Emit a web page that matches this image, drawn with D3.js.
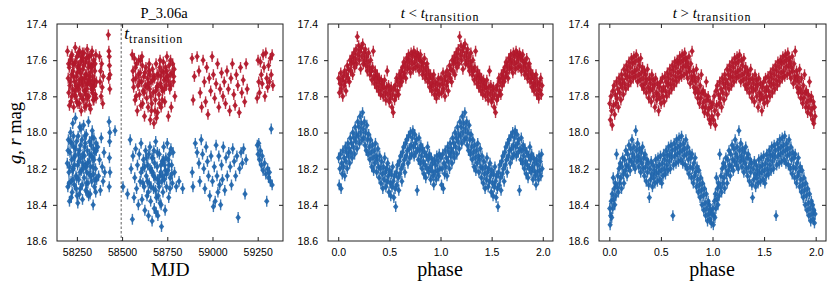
<!DOCTYPE html>
<html>
<head>
<meta charset="utf-8">
<script src="https://cdn.jsdelivr.net/npm/d3@7"></script>
<style>
  body { margin: 0; background: #fff; }
  svg text { fill: #000; }
  .tick text { font-family: 'Liberation Sans', Arial, sans-serif; font-size: 10.5px; }
  .serif { font-family: 'Liberation Serif', 'Times New Roman', serif; }
</style>
</head>
<body>
<div id="chart"></div>
<script>
// ticks
const magTicks = [17.4, 17.6, 17.8, 18.0, 18.2, 18.4, 18.6]
const mjdTicks = [58250, 58500, 58750, 59000, 59250]
const phaseTicks = [0, 0.5, 1, 1.5, 2]
const tTransition = 58495

// light curve vs MJD, r band [mjd, mag]
const rTime = [
  [58198,17.55],[58202,17.70],[58205,17.78],[58208,17.64],[58211,17.74],[58214,17.60],[58217,17.83],[58220,17.68],[58223,17.57],[58226,17.76],
  [58229,17.66],[58232,17.86],[58235,17.62],[58238,17.72],[58241,17.53],[58244,17.80],[58247,17.69],[58250,17.58],[58253,17.75],[58256,17.84],
  [58259,17.63],[58262,17.71],[58265,17.55],[58268,17.79],[58271,17.67],[58274,17.88],[58277,17.60],[58280,17.74],[58283,17.65],[58286,17.82],
  [58289,17.56],[58292,17.70],[58295,17.77],[58298,17.61],[58301,17.85],[58304,17.68],[58307,17.54],[58310,17.73],[58313,17.64],[58316,17.80],
  [58319,17.58],[58322,17.71],[58325,17.87],[58328,17.63],[58331,17.76],[58334,17.55],[58337,17.69],[58340,17.82],[58343,17.60],[58346,17.74],
  [58349,17.66],[58352,17.79],[58355,17.57],[58358,17.72],
  [58215,17.72],[58227,17.62],[58240,17.77],[58252,17.67],[58264,17.84],[58276,17.70],[58288,17.63],[58300,17.73],[58312,17.58],[58324,17.67],
  [58336,17.78],[58348,17.71],[58260,17.76],[58284,17.59],[58308,17.81],[58332,17.64],[58270,17.61],[58294,17.86],[58318,17.69],[58342,17.75],
  [58204,17.62],[58209,17.85],[58218,17.58],[58222,17.80],[58231,17.69],[58236,17.79],[58243,17.61],[58249,17.83],[58255,17.64],[58258,17.56],
  [58266,17.73],[58273,17.58],[58279,17.81],[58282,17.72],[58290,17.77],[58297,17.68],[58303,17.59],[58306,17.76],[58314,17.71],[58320,17.85],
  [58327,17.74],[58330,17.57],[58338,17.63],[58344,17.82],[58351,17.62],[58356,17.81],[58245,17.74],[58263,17.65],[58281,17.56],[58299,17.79],
  [58317,17.62],[58335,17.72],
  [58375,17.58],[58378,17.72],[58381,17.66],[58384,17.80],[58387,17.62],[58390,17.75],[58393,17.84],[58396,17.69],
  [58424,17.46],[58427,17.55],[58430,17.63],[58426,17.70],[58432,17.76],[58429,17.58],[58433,17.68],
  [58556,17.57],[58560,17.66],[58564,17.75],[58568,17.59],[58572,17.82],[58576,17.70],[58580,17.62],[58584,17.88],[58588,17.74],[58592,17.60],
  [58596,17.79],[58600,17.67],[58604,17.85],[58608,17.72],[58612,17.63],[58616,17.77],[58620,17.69],[58624,17.91],[58628,17.74],[58632,17.64],
  [58636,17.81],[58640,17.70],[58644,17.86],[58648,17.66],[58652,17.76],[58656,17.93],[58660,17.72],[58664,17.84],[58668,17.65],[58672,17.78],
  [58676,17.95],[58680,17.70],[58684,17.82],[58688,17.62],[58692,17.75],[58696,17.89],[58700,17.68],[58704,17.79],[58708,17.64],[58712,17.73],
  [58716,17.86],[58720,17.66],[58724,17.77],[58728,17.61],[58732,17.71],[58736,17.83],[58740,17.64],[58744,17.74],[58748,17.58],[58752,17.69],
  [58756,17.91],[58760,17.63],[58764,17.76],[58768,17.60],[58772,17.86],[58776,17.67],[58780,17.62],[58784,17.72],[58788,17.65],[58792,17.80],
  [58574,17.64],[58598,17.72],[58622,17.78],[58646,17.73],[58670,17.71],[58694,17.68],[58718,17.75],[58742,17.70],[58766,17.68],[58610,17.58],
  [58658,17.80],[58706,17.84],[58730,17.67],[58682,17.88],
  [58562,17.71],[58578,17.80],[58590,17.68],[58602,17.60],[58614,17.84],[58626,17.67],[58638,17.75],[58650,17.62],[58662,17.88],[58674,17.69],
  [58686,17.77],[58698,17.74],[58710,17.60],[58722,17.82],[58734,17.76],[58746,17.66],[58758,17.72],[58770,17.74],[58786,17.69],[58654,17.68],
  [58690,17.92],[58714,17.69],
  [58887,17.59],[58893,17.82],[58900,17.69],[58915,17.58],[58925,17.66],[58932,17.78],[58940,17.86],[58948,17.60],[58955,17.72],[58962,17.83],
  [58968,17.64],[58975,17.90],[58982,17.70],[58990,17.77],[58998,17.58],[59005,17.68],[59012,17.81],[59020,17.73],[59028,17.62],[59035,17.86],
  [59042,17.76],[59050,17.67],[59058,17.80],[59065,17.72],[59072,17.84],[59080,17.66],[59088,17.76],[59095,17.88],[59102,17.70],[59110,17.62],
  [59118,17.79],[59125,17.85],[59132,17.68],[59140,17.74],[59148,17.89],[59155,17.64],[59162,17.78],[59170,17.71],[59178,17.83],[59186,17.62],
  [59192,17.76],
  [59247,17.81],[59252,17.60],[59256,17.72],[59260,17.78],[59265,17.61],[59270,17.68],[59275,17.73],[59280,17.57],[59285,17.64],[59290,17.80],
  [59295,17.56],[59300,17.70],[59305,17.75],[59310,17.63],[59315,17.72],[59320,17.59],[59325,17.68],[59330,17.57],[59334,17.74]
]

// light curve vs MJD, g band [mjd, mag]
const gTime = [
  [58197,18.17],[58200,18.30],[58203,18.04],[58206,18.22],[58209,18.38],[58212,18.11],[58215,18.00],[58218,18.27],[58221,18.15],[58224,18.33],
  [58227,17.95],[58230,18.20],[58233,18.08],[58236,18.29],[58239,18.13],[58242,17.92],[58245,18.24],[58248,18.05],[58251,18.35],[58254,18.18],
  [58257,18.02],[58260,18.26],[58263,18.10],[58266,17.97],[58269,18.31],[58272,18.14],[58275,18.21],[58278,18.04],[58281,18.37],[58284,18.12],
  [58287,17.96],[58290,18.25],[58293,18.08],[58296,18.18],[58299,18.32],[58302,18.01],[58305,18.22],[58308,18.10],[58311,18.28],[58314,17.94],
  [58317,18.16],[58320,18.05],[58323,18.34],[58326,18.19],[58329,18.07],[58332,18.27],[58335,17.99],[58338,18.14],[58341,18.23],[58344,18.03],
  [58347,18.30],[58350,18.11],[58353,18.20],[58356,18.06],[58359,18.26],
  [58210,18.19],[58222,18.06],[58234,18.14],[58246,18.31],[58258,18.12],[58270,18.07],[58282,18.17],[58294,18.02],[58306,18.33],[58318,18.23],
  [58330,18.13],[58342,18.09],[58354,18.33],
  [58201,18.10],[58207,18.28],[58213,18.05],[58219,18.36],[58225,18.21],[58231,18.02],[58237,18.18],[58243,18.09],[58249,18.25],[58255,18.39],
  [58261,18.16],[58267,18.22],[58273,17.98],[58279,18.29],[58285,18.20],[58291,18.13],[58297,18.06],[58303,18.28],[58309,18.17],[58315,18.35],
  [58321,18.12],[58327,18.24],[58333,18.03],[58339,18.19],[58345,18.15],[58351,18.26],[58357,18.10],[58228,18.26],[58264,18.34],[58300,18.19],
  [58365,18.08],[58370,18.24],[58375,18.15],[58380,18.32],[58385,18.03],[58390,18.19],[58395,18.27],[58400,18.11],[58404,18.22],[58340,18.40],
  [58428,17.94],[58431,18.05],[58430,18.14],[58433,18.22],[58429,18.30],[58432,18.00],[58461,17.99],
  [58505,18.30],[58530,18.34],[58545,18.04],[58550,18.20],[58557,18.48],[58560,18.13],[58566,18.36],[58570,18.25],[58575,18.09],[58580,18.31],
  [58585,18.18],[58590,18.40],[58595,18.12],[58600,18.27],[58605,18.06],[58610,18.37],[58614,18.20],[58618,18.15],[58622,18.30],[58626,18.43],
  [58630,18.10],[58634,18.24],[58638,18.35],[58642,18.18],[58646,18.46],[58650,18.28],[58654,18.08],[58658,18.38],[58662,18.21],[58666,18.49],
  [58670,18.14],[58674,18.31],[58678,18.42],[58682,18.25],[58686,18.05],[58690,18.36],[58694,18.19],[58698,18.46],[58702,18.28],[58706,18.12],
  [58710,18.39],[58714,18.22],[58718,18.52],[58722,18.16],[58726,18.33],[58730,18.08],[58734,18.26],[58738,18.43],[58742,18.14],[58746,18.30],
  [58750,18.06],[58754,18.21],[58758,18.36],[58762,18.12],[58766,18.25],[58770,18.09],[58774,18.18],[58778,18.28],[58782,18.11],[58790,18.22],
  [58800,18.30],[58815,18.27],[58835,18.31],
  [58640,18.27],[58660,18.30],[58680,18.17],[58700,18.35],[58720,18.27],[58740,18.21],[58760,18.18],[58648,18.12],[58668,18.22],[58688,18.44],
  [58708,18.24],[58728,18.15],[58676,18.10],[58696,18.26],[58716,18.40],
  [58605,18.22],[58615,18.28],[58625,18.19],[58635,18.14],[58645,18.33],[58655,18.20],[58665,18.14],[58675,18.24],[58685,18.32],[58695,18.11],
  [58705,18.30],[58715,18.18],[58725,18.24],[58735,18.18],[58745,18.23],[58755,18.15],[58765,18.31],[58775,18.23],
  [58888,18.22],[58892,18.30],[58905,18.06],[58915,18.11],[58925,18.17],[58930,18.27],[58938,18.04],[58945,18.12],[58952,18.20],[58958,18.31],
  [58965,18.08],[58972,18.16],[58978,18.24],[58985,18.35],[58992,18.13],[59000,18.27],[59005,18.41],[59010,18.19],[59015,18.38],[59020,18.07],
  [59025,18.24],[59030,18.33],[59035,18.13],[59040,18.29],[59045,18.40],[59050,18.18],[59055,18.26],[59060,18.08],[59068,18.32],[59075,18.14],
  [59082,18.24],[59090,18.11],[59098,18.19],[59105,18.29],[59112,18.09],[59120,18.16],[59128,18.24],[59135,18.13],[59142,18.47],[59150,18.20],
  [59158,18.11],[59165,18.17],[59172,18.09],[59180,18.34],[59186,18.15],
  [59248,18.07],[59252,18.12],[59256,18.06],[59260,18.15],[59265,18.10],[59270,18.18],[59275,18.13],[59280,18.21],[59288,18.17],[59295,18.23],
  [59300,18.38],[59305,18.20],[59310,18.25],[59315,18.22],[59320,18.27],[59325,17.98],[59330,18.29]
]

// folded, t < t_transition [phase, mag]
const rBefore = [
  [0.005,17.70],[0.012,17.78],[0.018,17.73],[0.025,17.67],[0.031,17.76],[0.038,17.71],[0.044,17.80],[0.050,17.69],[0.057,17.74],[0.063,17.66],
  [0.070,17.72],[0.076,17.77],[0.083,17.68],[0.089,17.63],[0.096,17.70],[0.102,17.65],[0.109,17.72],[0.115,17.60],[0.122,17.66],[0.128,17.62],
  [0.135,17.58],[0.141,17.68],[0.148,17.61],[0.154,17.56],[0.161,17.64],[0.167,17.59],[0.174,17.54],[0.180,17.62],[0.187,17.47],[0.193,17.57],
  [0.200,17.52],[0.206,17.60],[0.213,17.55],[0.219,17.65],[0.226,17.53],[0.232,17.58],[0.239,17.51],[0.245,17.62],[0.252,17.56],[0.258,17.60],
  [0.265,17.54],[0.271,17.63],[0.278,17.58],[0.284,17.66],[0.291,17.61],[0.297,17.56],[0.304,17.64],[0.310,17.68],[0.317,17.60],[0.323,17.66],
  [0.330,17.71],[0.336,17.64],[0.343,17.55],[0.349,17.69],[0.356,17.73],[0.362,17.66],[0.369,17.70],[0.375,17.75],[0.382,17.68],[0.388,17.72],
  [0.395,17.77],[0.401,17.70],[0.408,17.74],[0.414,17.79],[0.421,17.71],[0.427,17.76],[0.434,17.73],[0.440,17.80],[0.447,17.75],[0.453,17.71],
  [0.460,17.78],[0.466,17.82],[0.473,17.75],[0.479,17.66],[0.486,17.79],[0.492,17.74],[0.499,17.83],[0.505,17.77],[0.512,17.81],[0.518,17.75],
  [0.525,17.86],[0.531,17.79],[0.538,17.89],[0.544,17.76],[0.551,17.82],[0.557,17.74],[0.564,17.80],[0.570,17.70],[0.577,17.77],[0.583,17.72],
  [0.590,17.79],[0.596,17.68],[0.603,17.74],[0.609,17.70],[0.616,17.66],[0.622,17.72],[0.629,17.64],[0.635,17.69],[0.642,17.61],[0.648,17.67],
  [0.655,17.63],[0.661,17.70],[0.668,17.59],[0.674,17.65],[0.681,17.61],[0.687,17.57],[0.694,17.64],[0.700,17.60],[0.707,17.67],[0.713,17.56],
  [0.720,17.62],[0.726,17.58],[0.733,17.65],[0.739,17.55],[0.746,17.61],[0.752,17.57],[0.759,17.64],[0.765,17.59],[0.772,17.56],[0.778,17.63],
  [0.785,17.58],[0.791,17.66],[0.798,17.60],[0.804,17.57],[0.811,17.64],[0.817,17.61],[0.824,17.68],[0.830,17.62],[0.837,17.66],[0.843,17.59],
  [0.850,17.70],[0.856,17.64],[0.863,17.68],[0.869,17.62],[0.876,17.72],[0.882,17.66],[0.889,17.70],[0.895,17.75],[0.902,17.68],[0.908,17.73],
  [0.915,17.77],[0.921,17.70],[0.928,17.74],[0.934,17.68],[0.941,17.79],[0.947,17.72],[0.954,17.76],[0.960,17.81],[0.967,17.73],[0.973,17.77],
  [0.980,17.70],[0.986,17.79],[0.993,17.74]
]

const gBefore = [
  [0.004,18.14],[0.010,18.29],[0.016,18.20],[0.022,18.12],[0.028,18.31],[0.034,18.17],[0.040,18.23],[0.046,18.10],[0.052,18.19],[0.058,18.14],
  [0.064,18.24],[0.070,18.08],[0.076,18.16],[0.082,18.11],[0.088,18.20],[0.094,18.06],[0.100,18.13],[0.106,18.09],[0.112,18.17],[0.118,18.03],
  [0.124,18.11],[0.130,18.06],[0.136,18.14],[0.142,18.00],[0.148,18.08],[0.154,18.03],[0.160,18.12],[0.166,17.97],[0.172,18.05],[0.178,18.01],
  [0.184,18.09],[0.190,17.94],[0.196,18.02],[0.202,17.97],[0.208,18.06],[0.214,17.91],[0.220,18.00],[0.226,17.95],[0.232,18.04],[0.238,17.89],
  [0.244,17.98],[0.250,18.03],[0.256,17.94],[0.262,18.07],[0.268,18.00],[0.274,18.10],[0.280,17.96],[0.286,18.04],[0.292,18.12],[0.298,18.01],
  [0.304,18.08],[0.310,18.15],[0.316,18.04],[0.322,18.11],[0.328,18.19],[0.334,18.07],[0.340,18.14],[0.346,18.21],[0.352,18.10],[0.358,18.17],
  [0.364,18.06],[0.370,18.13],[0.376,18.22],[0.382,18.15],[0.388,18.09],[0.394,18.19],[0.400,18.25],[0.406,18.13],[0.412,18.20],[0.418,18.28],
  [0.424,18.16],[0.430,18.23],[0.436,18.31],[0.442,18.19],[0.448,18.26],[0.454,18.14],[0.460,18.22],[0.466,18.30],[0.472,18.20],[0.478,18.27],
  [0.484,18.17],[0.490,18.24],[0.496,18.33],[0.502,18.21],[0.508,18.28],[0.514,18.35],[0.520,18.23],[0.526,18.30],[0.532,18.19],[0.538,18.27],
  [0.544,18.36],[0.550,18.24],[0.556,18.31],[0.562,18.41],[0.568,18.22],[0.574,18.29],[0.580,18.18],[0.586,18.25],[0.592,18.32],[0.598,18.16],
  [0.604,18.23],[0.610,18.13],[0.616,18.20],[0.622,18.27],[0.628,18.11],[0.634,18.18],[0.640,18.08],[0.646,18.15],[0.652,18.22],[0.658,18.06],
  [0.664,18.13],[0.670,18.04],[0.676,18.10],[0.682,18.17],[0.688,18.02],[0.694,18.09],[0.700,18.14],[0.706,18.00],[0.712,18.07],[0.718,18.12],
  [0.724,18.03],[0.730,17.99],[0.736,18.08],[0.742,18.13],[0.748,18.01],[0.754,18.06],[0.760,18.11],[0.766,18.04],[0.772,18.32],[0.778,18.09],
  [0.784,18.15],[0.790,18.03],[0.796,18.10],[0.802,18.17],[0.808,18.07],[0.814,18.13],[0.820,18.20],[0.826,18.09],[0.832,18.16],[0.838,18.23],
  [0.844,18.11],[0.850,18.18],[0.856,18.25],[0.862,18.13],[0.868,18.20],[0.874,18.08],[0.880,18.15],[0.886,18.22],[0.892,18.12],[0.898,18.19],
  [0.904,18.26],[0.910,18.14],[0.916,18.21],[0.922,18.17],[0.928,18.24],[0.934,18.29],[0.940,18.15],[0.946,18.22],[0.952,18.18],[0.958,18.26],
  [0.964,18.13],[0.970,18.21],[0.976,18.16],[0.982,18.24],[0.988,18.12],[0.994,18.20]
]

// folded, t > t_transition [phase, mag]
const rAfter = [
  [0.004,17.84],[0.010,17.93],[0.016,17.80],[0.022,17.88],[0.028,17.96],[0.034,17.77],[0.040,17.85],[0.046,17.74],[0.052,17.90],[0.058,17.79],
  [0.064,17.84],[0.070,17.72],[0.076,17.81],[0.082,17.76],[0.088,17.86],[0.094,17.70],[0.100,17.78],[0.106,17.73],[0.112,17.82],[0.118,17.68],
  [0.124,17.75],[0.130,17.71],[0.136,17.79],[0.142,17.65],[0.148,17.73],[0.154,17.68],[0.160,17.76],[0.166,17.63],[0.172,17.70],[0.178,17.66],
  [0.184,17.74],[0.190,17.61],[0.196,17.69],[0.202,17.64],[0.208,17.72],[0.214,17.59],[0.220,17.67],[0.226,17.62],[0.232,17.70],[0.238,17.58],
  [0.244,17.66],[0.250,17.61],[0.256,17.69],[0.262,17.57],[0.268,17.65],[0.274,17.72],[0.280,17.60],[0.286,17.68],[0.292,17.63],[0.298,17.71],
  [0.304,17.59],[0.310,17.67],[0.316,17.74],[0.322,17.64],[0.328,17.70],[0.334,17.76],[0.340,17.66],[0.346,17.73],[0.352,17.68],[0.358,17.78],
  [0.364,17.71],[0.370,17.65],[0.376,17.75],[0.382,17.81],[0.388,17.70],[0.394,17.77],[0.400,17.73],[0.406,17.83],[0.412,17.68],[0.418,17.76],
  [0.424,17.71],[0.430,17.80],[0.436,17.74],[0.442,17.86],[0.448,17.70],[0.454,17.78],[0.460,17.82],[0.466,17.73],[0.472,17.79],[0.478,17.88],
  [0.484,17.75],[0.490,17.81],[0.496,17.72],[0.502,17.84],[0.508,17.77],[0.514,17.70],[0.520,17.80],[0.526,17.75],[0.532,17.83],[0.538,17.69],
  [0.544,17.77],[0.550,17.72],[0.556,17.80],[0.562,17.67],[0.568,17.74],[0.574,17.70],[0.580,17.78],[0.586,17.65],[0.592,17.73],[0.598,17.68],
  [0.604,17.76],[0.610,17.63],[0.616,17.71],[0.622,17.66],[0.628,17.74],[0.634,17.61],[0.640,17.69],[0.646,17.64],[0.652,17.72],[0.658,17.60],
  [0.664,17.67],[0.670,17.62],[0.676,17.70],[0.682,17.58],[0.688,17.66],[0.694,17.61],[0.700,17.69],[0.706,17.57],[0.712,17.64],[0.718,17.60],
  [0.724,17.68],[0.730,17.56],[0.736,17.63],[0.742,17.59],[0.748,17.67],[0.754,17.61],[0.760,17.70],[0.766,17.64],[0.772,17.58],[0.778,17.66],
  [0.784,17.73],[0.790,17.62],[0.796,17.69],[0.802,17.55],[0.808,17.71],[0.814,17.66],[0.820,17.75],[0.826,17.69],[0.832,17.78],[0.838,17.72],
  [0.844,17.65],[0.850,17.76],[0.856,17.81],[0.862,17.70],[0.868,17.78],[0.874,17.84],[0.880,17.74],[0.886,17.81],[0.892,17.68],[0.898,17.78],
  [0.904,17.86],[0.910,17.77],[0.916,17.83],[0.922,17.89],[0.928,17.79],[0.934,17.86],[0.940,17.72],[0.946,17.82],[0.952,17.90],[0.958,17.80],
  [0.964,17.87],[0.970,17.93],[0.976,17.83],[0.982,17.95],[0.988,17.86],[0.994,17.91]
]

const gAfter = [
  [0.004,18.42],[0.008,18.51],[0.013,18.46],[0.018,18.38],[0.023,18.47],[0.028,18.34],[0.033,18.42],[0.038,18.25],[0.043,18.37],[0.048,18.31],
  [0.053,18.40],[0.058,18.28],[0.064,18.35],[0.070,18.12],[0.076,18.30],[0.082,18.24],[0.088,18.33],[0.094,18.20],[0.100,18.28],[0.106,18.17],
  [0.112,18.25],[0.118,18.31],[0.124,18.19],[0.130,18.14],[0.136,18.23],[0.142,18.28],[0.148,18.15],[0.154,18.21],[0.160,18.10],[0.166,18.18],
  [0.172,18.24],[0.178,18.12],[0.184,18.19],[0.190,18.07],[0.196,18.15],[0.202,18.21],[0.208,18.09],[0.214,18.16],[0.220,18.04],[0.226,18.12],
  [0.232,18.18],[0.238,18.08],[0.244,18.14],[0.250,18.20],[0.256,17.99],[0.262,18.10],[0.268,18.16],[0.274,18.06],[0.280,18.13],[0.286,18.19],
  [0.292,18.09],[0.298,18.15],[0.304,18.22],[0.310,18.11],[0.316,18.17],[0.322,18.08],[0.328,18.20],[0.334,18.14],[0.340,18.24],[0.346,18.12],
  [0.352,18.19],[0.358,18.27],[0.364,18.15],[0.370,18.22],[0.376,18.17],[0.382,18.29],[0.388,18.36],[0.394,18.20],[0.400,18.26],[0.406,18.16],
  [0.412,18.23],[0.418,18.30],[0.424,18.18],[0.430,18.25],[0.436,18.21],[0.442,18.28],[0.448,18.15],[0.454,18.23],[0.460,18.19],[0.466,18.27],
  [0.472,18.14],[0.478,18.22],[0.484,18.18],[0.490,18.26],[0.496,18.13],[0.502,18.21],[0.508,18.28],[0.514,18.17],[0.520,18.24],[0.526,18.12],
  [0.532,18.20],[0.538,18.15],[0.544,18.23],[0.550,18.10],[0.556,18.18],[0.562,18.13],[0.568,18.21],[0.574,18.08],[0.580,18.16],[0.586,18.12],
  [0.592,18.20],[0.598,18.07],[0.604,18.14],[0.610,18.10],[0.616,18.46],[0.622,18.18],[0.628,18.06],[0.634,18.13],[0.640,18.09],[0.646,18.17],
  [0.652,18.04],[0.658,18.12],[0.664,18.08],[0.670,18.16],[0.676,18.03],[0.682,18.11],[0.688,18.07],[0.694,18.15],[0.700,18.02],[0.706,18.10],
  [0.712,18.17],[0.718,18.06],[0.724,18.13],[0.730,18.09],[0.736,18.18],[0.742,18.04],[0.748,18.12],[0.754,18.20],[0.760,18.08],[0.766,18.15],
  [0.772,18.23],[0.778,18.11],[0.784,18.19],[0.790,18.14],[0.796,18.25],[0.802,18.12],[0.808,18.20],[0.814,18.28],[0.820,18.17],[0.826,18.24],
  [0.832,18.14],[0.838,18.22],[0.844,18.30],[0.850,18.19],[0.856,18.26],[0.862,18.33],[0.868,18.21],[0.874,18.29],[0.880,18.36],[0.886,18.25],
  [0.892,18.32],[0.898,18.40],[0.904,18.28],[0.910,18.35],[0.916,18.43],[0.922,18.31],[0.928,18.39],[0.934,18.46],[0.940,18.34],[0.946,18.42],
  [0.952,18.49],[0.958,18.38],[0.964,18.45],[0.970,18.40],[0.976,18.48],[0.982,18.43],[0.988,18.50],[0.994,18.45]
]

const width = 831,
      height = 287
const RED = '#b2182b',
      BLUE = '#2166ac'
const yTop = 24, yBottom = 241
const magErr = 0.03

const svg = d3.select('#chart')
  .append('svg')
  .attr('width', width)
  .attr('height', height)

const y = d3.scaleLinear().domain([17.4, 18.6]).range([yTop, yBottom])

// folded curves are shown twice, phase 0-2
function twoCycles(pts) {
  return pts.concat(pts.map(d => [d[0] + 1, d[1]]))
}

function panel(id, left, right, x, xTicks, xFmt, series) {
  const g = svg.append('g')

  svg.append('clipPath').attr('id', id)
    .append('rect')
    .attr('x', left).attr('y', yTop)
    .attr('width', right - left).attr('height', yBottom - yTop)

  const pts = g.append('g').attr('clip-path', 'url(#' + id + ')')
  series.forEach(s => {
    const grp = pts.append('g').attr('fill', s.color).attr('stroke', s.color)
    grp.selectAll('line')
      .data(s.data)
      .enter().append('line')
      .attr('x1', d => x(d[0])).attr('x2', d => x(d[0]))
      .attr('y1', d => y(d[1] - magErr)).attr('y2', d => y(d[1] + magErr))
      .attr('stroke-width', 1.4)
      .attr('stroke-opacity', 0.85)
    grp.selectAll('path')
      .data(s.data)
      .enter().append('path')
      .attr('d', 'M0,-3.4L2.7,0L0,3.4L-2.7,0Z')
      .attr('stroke', 'none')
      .attr('transform', d => 'translate(' + x(d[0]) + ',' + y(d[1]) + ')')
      .attr('fill-opacity', 0.92)
  })

  const axL = g.append('g')
    .attr('transform', 'translate(' + left + ',0)')
    .call(d3.axisLeft(y).tickValues(magTicks).tickFormat(d3.format('.1f')).tickSize(4).tickPadding(6))
  const axR = g.append('g')
    .attr('transform', 'translate(' + right + ',0)')
    .call(d3.axisRight(y).tickValues(magTicks).tickFormat('').tickSize(-4))
  const axB = g.append('g')
    .attr('transform', 'translate(0,' + yBottom + ')')
    .call(d3.axisBottom(x).tickValues(xTicks).tickFormat(xFmt).tickSize(-4).tickPadding(8))
  const axT = g.append('g')
    .attr('transform', 'translate(0,' + yTop + ')')
    .call(d3.axisTop(x).tickValues(xTicks).tickFormat('').tickSize(-4))

  ;[axL, axR, axB, axT].forEach(a => {
    a.select('.domain').remove()
    a.selectAll('.tick line').attr('stroke', '#222')
  })
  axL.selectAll('.tick').filter(d => d === 17.4 || d === 18.6).select('line').remove()
  axR.selectAll('.tick').filter(d => d === 17.4 || d === 18.6).remove()

  g.append('rect')
    .attr('x', left).attr('y', yTop)
    .attr('width', right - left).attr('height', yBottom - yTop)
    .attr('fill', 'none')
    .attr('stroke', '#222')
    .attr('stroke-width', 1)

  return g
}

// MJD panel
const xTime = d3.scaleLinear().domain([58140, 59390]).range([57, 283])
const g1 = panel('c1', 57, 283, xTime, mjdTicks, d3.format('d'),
  [{ color: RED, data: rTime }, { color: BLUE, data: gTime }])

g1.append('line')
  .attr('x1', xTime(tTransition)).attr('x2', xTime(tTransition))
  .attr('y1', yTop).attr('y2', yBottom)
  .attr('stroke', '#333')
  .attr('stroke-width', 0.8)
  .attr('stroke-dasharray', '2.5,2')

const ann = g1.append('text').attr('class', 'serif')
  .attr('x', xTime(tTransition) + 3).attr('y', 39)
ann.append('tspan').attr('font-style', 'italic').attr('font-size', 17).text('t')
ann.append('tspan').attr('font-size', 12).attr('dy', 4).attr('letter-spacing', 0.9).text('transition')

// folded panels
const xPh2 = d3.scaleLinear().domain([-0.1, 2.1]).range([328, 553])
panel('c2', 328, 553, xPh2, phaseTicks, d3.format('.1f'),
  [{ color: RED, data: twoCycles(rBefore) }, { color: BLUE, data: twoCycles(gBefore) }])

const xPh3 = d3.scaleLinear().domain([-0.1, 2.1]).range([599, 826])
panel('c3', 599, 826, xPh3, phaseTicks, d3.format('.1f'),
  [{ color: RED, data: twoCycles(rAfter) }, { color: BLUE, data: twoCycles(gAfter) }])

// titles
svg.append('text').attr('class', 'serif')
  .attr('x', 164).attr('y', 18)
  .attr('text-anchor', 'middle')
  .attr('font-size', 14.5)
  .text('P_3.06a')

function transTitle(cx, sign) {
  const t = svg.append('text').attr('class', 'serif')
    .attr('x', cx).attr('y', 18)
    .attr('text-anchor', 'middle')
    .attr('font-size', 15)
  t.append('tspan').attr('font-style', 'italic').text('t')
  t.append('tspan').text(' ' + sign + ' ')
  t.append('tspan').attr('font-style', 'italic').text('t')
  t.append('tspan').attr('font-size', 12).attr('dy', 3).attr('letter-spacing', 0.9).text('transition')
}
transTitle(440, '<')
transTitle(712, '>')

// axis labels
svg.append('text').attr('class', 'serif')
  .attr('x', 170).attr('y', 276)
  .attr('text-anchor', 'middle')
  .attr('font-size', 19.5)
  .text('MJD')

;[[440, 276], [712, 276]].forEach(p => {
  svg.append('text').attr('class', 'serif')
    .attr('x', p[0]).attr('y', p[1])
    .attr('text-anchor', 'middle')
    .attr('font-size', 20)
    .text('phase')
})

const yl = svg.append('text').attr('class', 'serif')
  .attr('transform', 'translate(21,133) rotate(-90)')
  .attr('text-anchor', 'middle')
  .attr('font-size', 18.5)
yl.append('tspan').attr('font-style', 'italic').text('g')
yl.append('tspan').text(', ')
yl.append('tspan').attr('font-style', 'italic').text('r')
yl.append('tspan').text(' mag')
</script>
</body>
</html>
